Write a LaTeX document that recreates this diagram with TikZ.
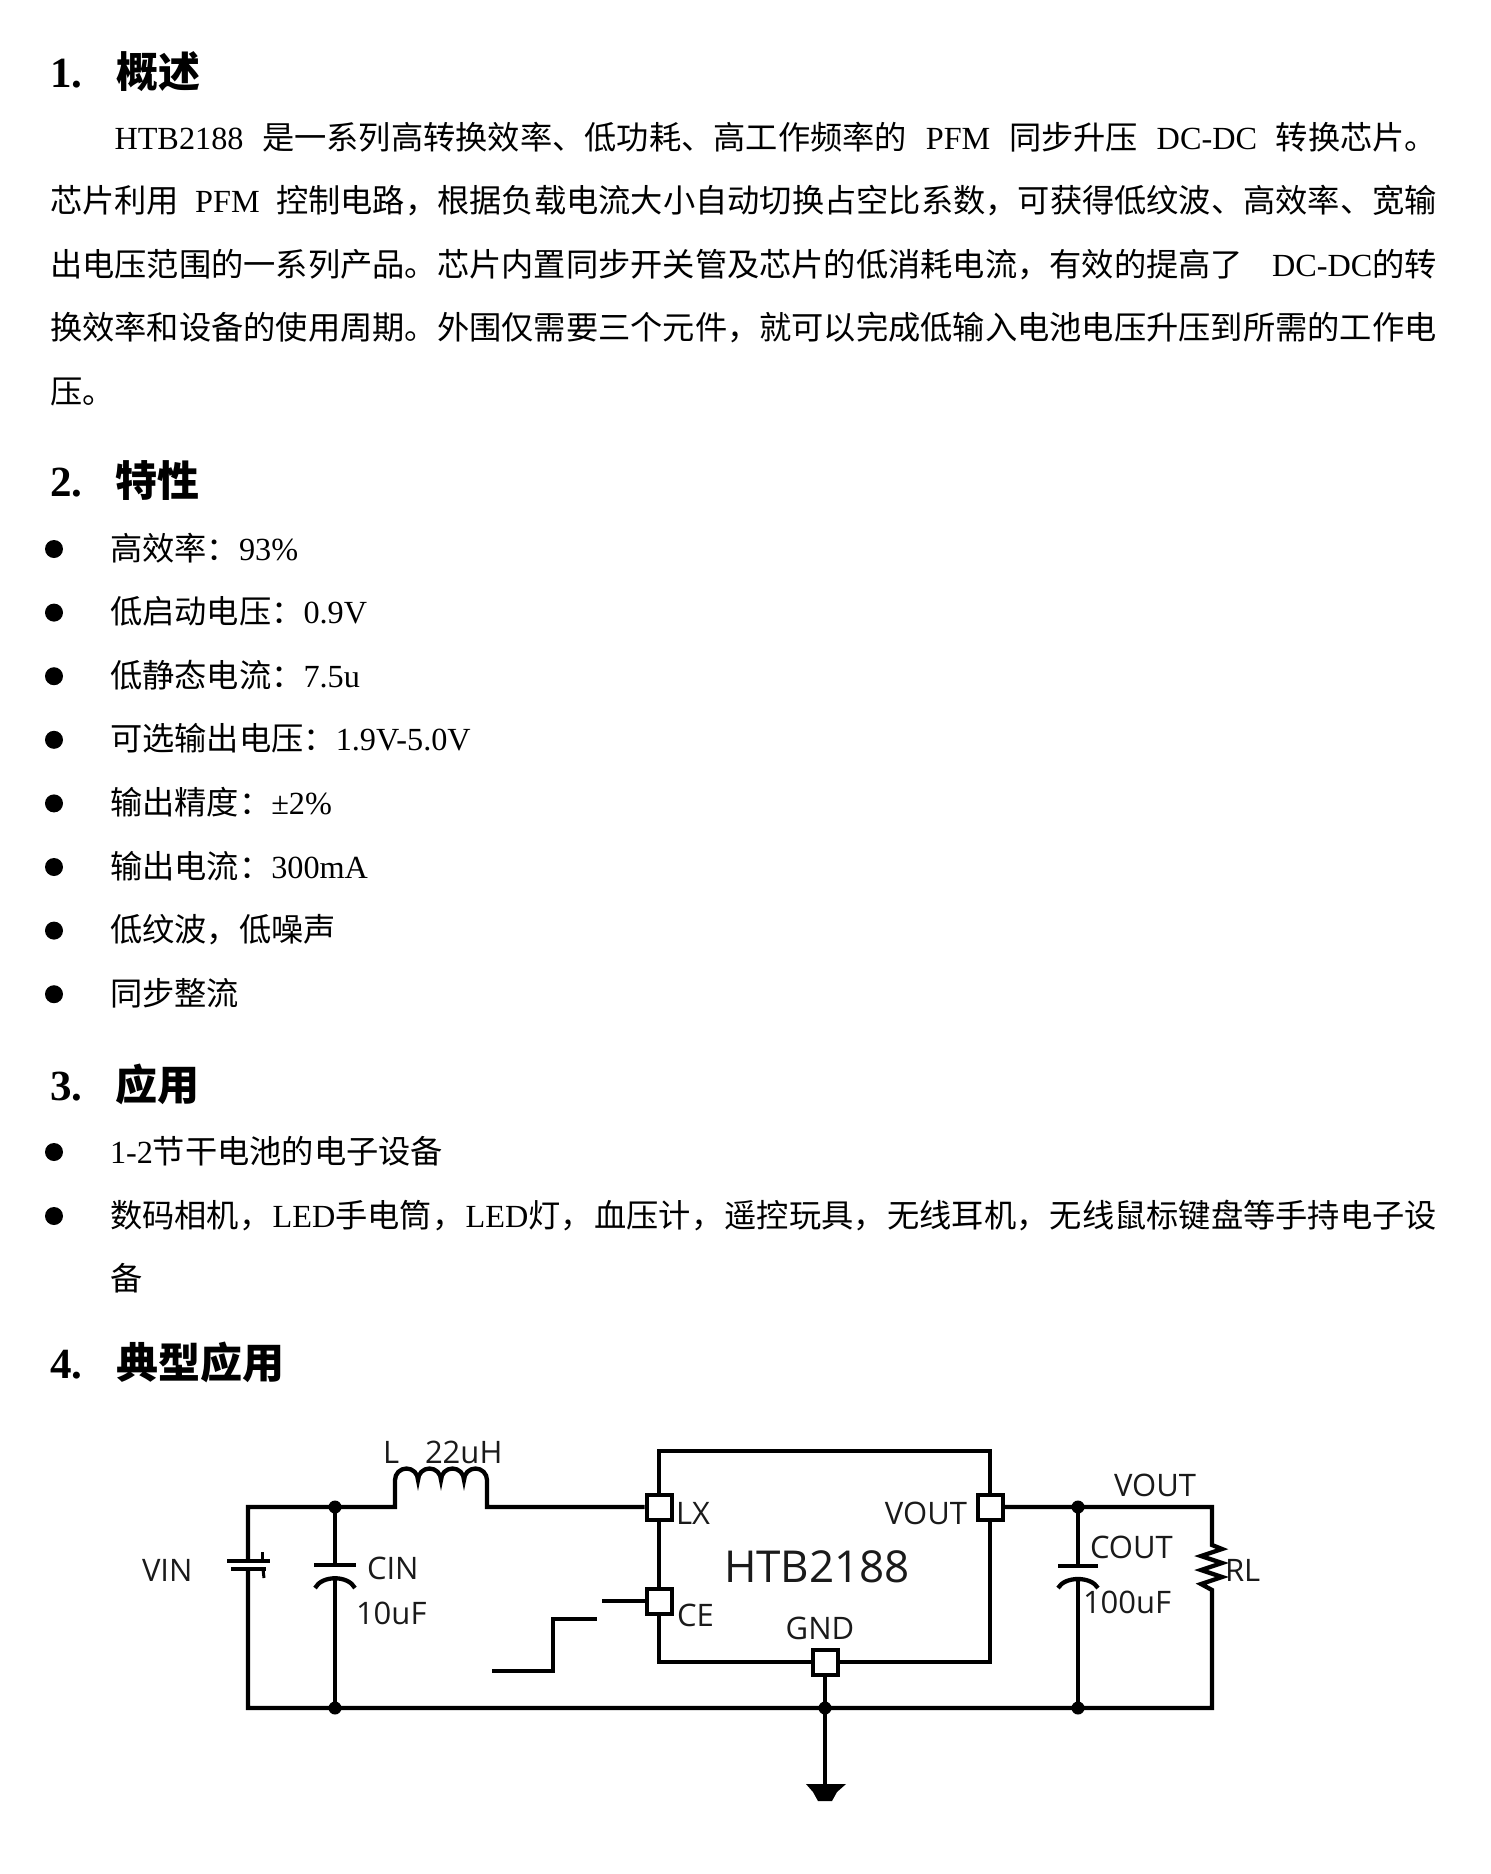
\documentclass[tikz,border=0pt]{standalone}
\usepackage{fontspec}
\setmainfont{Liberation Serif}
\newfontfamily\cjk{Noto Sans CJK SC}
\newfontfamily\cfont{Open Sans}
\newcommand\en[1]{{\rmfamily #1}}
\definecolor{labc}{HTML}{1A1A1A}
\begin{document}
\begin{tikzpicture}[x=1pt,y=-1pt,
  txt/.style={inner sep=0pt, outer sep=0pt, anchor=base west, font=\cjk\fontsize{32.25}{38}\selectfont},
  headtxt/.style={inner sep=0pt, outer sep=0pt, anchor=base west, font=\cjk\bfseries\fontsize{42}{50}\selectfont},
  headnum/.style={inner sep=0pt, outer sep=0pt, anchor=base west, font=\rmfamily\bfseries\fontsize{43}{50}\selectfont},
  bul/.style={circle, fill=black, inner sep=0pt, minimum size=18pt},
  wire/.style={line width=4.3pt, line join=miter},
  pin/.style={draw, fill=white, line width=4pt, minimum size=25pt, inner sep=0pt},
  lab/.style={inner sep=0pt, outer sep=0pt, anchor=base west, font=\cfont\fontsize{31}{36}\selectfont, text=labc},
  jdot/.style={circle, fill=black, inner sep=0pt, minimum size=13pt},
]
\fill[white] (0,0) rectangle (1491,1874);
\useasboundingbox (0,0) rectangle (1491,1874);

% ---------- Section 1 ----------
\node[headnum] (h1n) at (50,87) {1.};
\node[headtxt] (h1t) at (116,87) {概述};
\node[txt] (p1) at (114.5,149) {\makebox[1322.5pt][s]{\en{HTB2188} 是一系列高转换效率、低功耗、高工作频率的 \en{PFM} 同步升压 \en{DC-DC} 转换芯片。}};
\node[txt] (p2) at (50,212.5) {\makebox[1387pt][s]{芯片利用 \en{PFM} 控制电路，根据负载电流大小自动切换占空比系数，可获得低纹波、高效率、宽输}};
\node[txt] (p3) at (50,276) {\makebox[1387pt][s]{出电压范围的一系列产品。芯片内置同步开关管及芯片的低消耗电流，有效的提高了 \en{DC-DC}的转}};
\node[txt] (p4) at (50,339.5) {换效率和设备的使用周期。外围仅需要三个元件，就可以完成低输入电池电压升压到所需的工作电};
\node[txt] (p5) at (50,403) {压。};

% ---------- Section 2 ----------
\node[headnum] (h2n) at (50,496) {2.};
\node[headtxt] (h2t) at (115,496) {特性};
\node[bul] (b1) at (54,549) {};
\node[bul] (b2) at (54,612.6) {};
\node[bul] (b3) at (54,676.2) {};
\node[bul] (b4) at (54,739.8) {};
\node[bul] (b5) at (54,803.4) {};
\node[bul] (b6) at (54,867) {};
\node[bul] (b7) at (54,930.6) {};
\node[bul] (b8) at (54,994.2) {};
\node[txt] (t1) at (110,560) {高效率：\en{93\%}};
\node[txt] (t2) at (110,623.6) {低启动电压：\en{0.9V}};
\node[txt] (t3) at (110,687.2) {低静态电流：\en{7.5u}};
\node[txt] (t4) at (110,750.8) {可选输出电压：\en{1.9V-5.0V}};
\node[txt] (t5) at (110,814.4) {输出精度：\en{±2\%}};
\node[txt] (t6) at (110,878) {输出电流：\en{300mA}};
\node[txt] (t7) at (110,941.6) {低纹波，低噪声};
\node[txt] (t8) at (110,1005.2) {同步整流};

% ---------- Section 3 ----------
\node[headnum] (h3n) at (50,1100) {3.};
\node[headtxt] (h3t) at (115,1100) {应用};
\node[bul] (c1) at (54,1152) {};
\node[bul] (c2) at (54,1216) {};
\node[txt] (u1) at (110,1163) {\en{1-2}节干电池的电子设备};
\node[txt] (u2) at (110,1227) {\makebox[1327pt][s]{数码相机，\hskip0pt plus1pt\en{LED}手电筒，\hskip0pt plus1pt\en{LED}灯，\hskip0pt plus1pt血压计，\hskip0pt plus1pt遥控玩具，\hskip0pt plus1pt无线耳机，\hskip0pt plus1pt无线鼠标键盘等手持电子设}};
\node[txt] (u3) at (110,1290) {备};

% ---------- Section 4 ----------
\node[headnum] (h4n) at (50,1378) {4.};
\node[headtxt] (h4t) at (116,1378) {典型应用};

% ---------- Circuit ----------
\coordinate (jl) at (335,1507);
\coordinate (jlb) at (335,1708);
\coordinate (jg) at (825,1708);
\coordinate (jo) at (1078,1507);
\coordinate (job) at (1078,1708);
\coordinate (ceIn) at (602,1601);
\coordinate (gsym) at (825,1786);

\node[draw, line width=4.5pt, minimum width=331pt, minimum height=211pt, inner sep=0pt] (ic) at (824.5,1556.5) {};

% pins
\node[pin] (lx) at (659,1507) {};
\node[pin] (ce) at (659,1601) {};
\node[pin] (vo) at (990,1507) {};
\node[pin] (gnd) at (825,1662) {};

% input side
\draw[wire] (248,1561) -- (248,1507) -- (jl) -- (395,1507) -- (395,1480)
   arc[start angle=180, end angle=0, radius=11.5pt]
   arc[start angle=180, end angle=0, radius=11.5pt]
   arc[start angle=180, end angle=0, radius=11.5pt]
   arc[start angle=180, end angle=0, radius=11.5pt]
   -- (487,1507) -- (lx.west);
% battery
\draw[line width=4.3pt] (227,1561) -- (270,1561);
\draw[line width=4.3pt] (231,1569) -- (266,1569);
\draw[line width=3pt] (262,1552) -- (262,1561);
\draw[line width=3pt] (263,1569) -- (264,1578);
% CIN
\draw[wire] (jl) -- (335,1565);
\draw[wire] (314,1565) -- (356,1565);
\draw[wire] (315,1588) .. controls (322,1575) and (348,1575) .. (355,1588);
\draw[wire] (335,1577) -- (jlb);
% output loop and ground rail
\draw[wire] (vo.east) -- (jo) -- (1212,1507) -- (1212,1545) -- (1222,1549) -- (1201,1556) -- (1222,1563)
   -- (1201,1570) -- (1222,1577) -- (1201,1584) -- (1212,1590) -- (1212,1708)
   -- (248,1708) -- (248,1569);
% COUT
\draw[wire] (jo) -- (1078,1566);
\draw[wire] (1058,1566) -- (1098,1566);
\draw[wire] (1058,1588) .. controls (1065,1576) and (1091,1576) .. (1098,1588);
\draw[wire] (1078,1578) -- (job);
% CE input and step
\draw[wire] (ceIn) -- (ce.west);
\draw[wire] (492,1671) -- (553,1671) -- (553,1619) -- (597,1619);
% ground
\draw[wire] (gnd.south) -- (jg) -- (gsym);
\fill (806,1784) -- (846,1784) -- (837,1792) -- (832,1801) -- (818,1801) -- (813,1792) -- cycle;

% junction dots
\node[jdot] (d1) at (jl) {};
\node[jdot] (d2) at (jlb) {};
\node[jdot] (d3) at (jg) {};
\node[jdot] (d4) at (jo) {};
\node[jdot] (d5) at (job) {};

% labels
\node[lab] (lL) at (383,1463) {L};
\node[lab] (l22) at (425,1463) {22uH};
\node[lab] (lvin) at (142,1581) {VIN};
\node[lab] (lcin) at (367,1579) {CIN};
\node[lab] (l10) at (356,1624) {10uF};
\node[lab] (llx) at (676,1524) {LX};
\node[lab] (lce) at (677,1626) {CE};
\node[lab, anchor=base east] (lvo) at (967,1524) {VOUT};
\node[lab, anchor=base] (lgnd) at (820,1639) {GND};
\node[lab, anchor=base, font=\cfont\fontsize{44}{50}\selectfont] (lic) at (817,1582) {HTB2188};
\node[lab] (lvo2) at (1114,1496) {VOUT};
\node[lab] (lcout) at (1090,1558) {COUT};
\node[lab] (l100) at (1083,1613) {100uF};
\node[lab] (lrl) at (1225,1581) {RL};
\end{tikzpicture}
\end{document}
